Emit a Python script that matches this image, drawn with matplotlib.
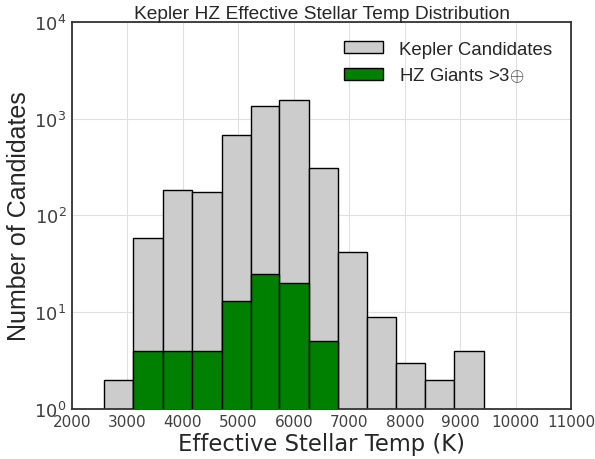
import numpy as np
import matplotlib
matplotlib.use("Agg")
import matplotlib.pyplot as plt

# -----------------------------
# DATA
# -----------------------------
bin_edges = [2583, 3106, 3647, 4170, 4700, 5223, 5740, 6281, 6804, 7327, 7850, 8373, 8890, 9431]
kepler_counts = [2, 59, 184, 176, 676, 1340, 1565, 312, 42, 9, 3, 2, 4]
hz_giants = [0, 4, 4, 4, 13, 25, 20, 5, 0, 0, 0, 0, 0]
xtick_vals = [2000, 3000, 4000, 5000, 6000, 7000, 8000, 9000, 10000, 11000]

plt.rcParams["mathtext.fontset"] = "custom"
plt.rcParams["mathtext.rm"] = "Liberation Sans"
plt.rcParams["mathtext.it"] = "Liberation Sans:italic"

text_col = "#262626"
tick_col = "#404040"

fig = plt.figure(figsize=(5.95, 4.6), dpi=100)
ax = fig.add_axes([0.121, 0.109, 0.839, 0.841])

left = np.array(bin_edges[:-1])
widths = np.diff(bin_edges)

ax.bar(left, kepler_counts, width=widths, align="edge", color="#cccccc",
       edgecolor="black", linewidth=1.0, label="Kepler Candidates", zorder=2)
hz = np.array(hz_giants, dtype=float)
mask = hz > 0
ax.bar(left[mask], hz[mask], width=widths[mask], align="edge", color="green",
       edgecolor="black", linewidth=1.0, label=r"HZ Giants >3$\oplus$", zorder=3)

ax.set_yscale("log")
ax.set_ylim(1, 1e4)
ax.set_xlim(2000, 11000)
ax.set_xticks(xtick_vals)
ax.minorticks_off()
ax.grid(True, color="#e0e0e0", linewidth=0.8, zorder=0)
ax.set_axisbelow(True)

for s in ax.spines.values():
    s.set_color("#333333")
    s.set_linewidth(1.3)
ax.tick_params(length=0, pad=4, colors=tick_col)
for lbl in ax.get_xticklabels():
    lbl.set_fontsize(11)
    lbl.set_family("DejaVu Sans")
for lbl in ax.get_yticklabels():
    lbl.set_fontsize(13)

ax.set_title("Kepler HZ Effective Stellar Temp Distribution", fontsize=13.8,
             family="Liberation Sans", color=text_col, pad=3)
ax.set_xlabel("Effective Stellar Temp (K)", fontsize=16.3, family="DejaVu Sans",
              color=text_col, labelpad=2)
ax.set_ylabel("Number of Candidates", fontsize=18, family="Liberation Sans",
              color=text_col, labelpad=2)

leg = ax.legend(loc="upper right", frameon=False, prop={"family": "Liberation Sans", "size": 13.4},
                handlelength=2.1, handleheight=0.6, handletextpad=0.86,
                borderaxespad=0.6, labelspacing=0.44)
for t in leg.get_texts():
    t.set_color(text_col)

fig.savefig("out.png", dpi=100)
